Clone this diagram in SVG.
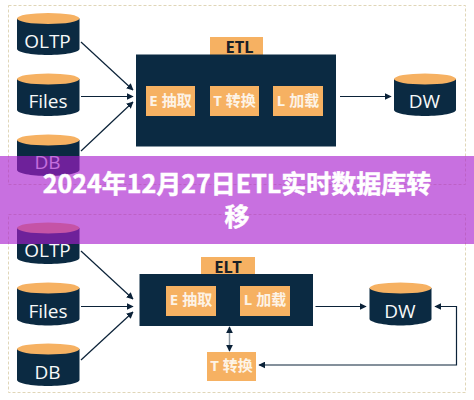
<svg xmlns="http://www.w3.org/2000/svg" width="474" height="400" viewBox="0 0 474 400">
<defs>
<marker id="ah" viewBox="0 0 10 10" refX="9" refY="5" markerWidth="7" markerHeight="7" orient="auto-start-reverse" markerUnits="userSpaceOnUse"><path d="M0 0L10 5L0 10z" fill="#0b2238"/></marker>
</defs>
<style>
.frame{fill:none;stroke:#e0d6b8;stroke-width:1;stroke-dasharray:3 2}
.body{fill:#0b2a42}
.top{fill:#f6b162}
.dark{fill:#0b2a42}
.box{fill:#f6b162}
.con{fill:none;stroke:#0b2238;stroke-width:1.2}
.lbl{font-family:"Open Sans","Noto Sans CJK SC",sans-serif;font-size:19px;fill:#f7f9f9;text-anchor:middle}
.step{font-family:"Noto Sans","Noto Sans CJK SC",sans-serif;font-size:15px;font-weight:700;fill:#fdf3e6;text-anchor:middle}
.tab{font-family:"Noto Sans",sans-serif;font-size:16.5px;font-weight:700;fill:#1a2026;text-anchor:middle}
.title{font-family:"Noto Sans CJK SC","Noto Sans",sans-serif;font-size:25px;font-weight:700;fill:#fff;stroke:#fff;stroke-width:.5;text-anchor:middle}
</style>
<rect width="474" height="400" fill="#fff"/>
<rect class="frame" x="8.500" y="5.500" width="457" height="179"/>
<rect class="frame" x="8.500" y="214.500" width="457" height="178"/>
<g id="connectors">
<path class="con" d="M81 42L133 90" marker-end="url(#ah)"/>
<path class="con" d="M81 96.500H133" marker-end="url(#ah)"/>
<path class="con" d="M81 151L133 102" marker-end="url(#ah)"/>
<path class="con" d="M340 96.500H391" marker-end="url(#ah)"/>
<path class="con" d="M81 251L133 299" marker-end="url(#ah)"/>
<path class="con" d="M81 306.500H133" marker-end="url(#ah)"/>
<path class="con" d="M81 360L133 312" marker-end="url(#ah)"/>
<path class="con" d="M315.500 306.500H366" marker-end="url(#ah)"/>
<path class="con" d="M229.500 327V351" style="stroke:#8a96a0;stroke-width:1.500" marker-start="url(#ah)" marker-end="url(#ah)"/>
<path class="con" d="M435 306.500H456.500V365H259" marker-start="url(#ah)" marker-end="url(#ah)"/>
</g>
<g id="oltp1"><path class="body" d="M17 18.500V49C17 52 31 55 48 55S79.500 52 79.500 49V18.500z"/><ellipse class="top" cx="48.250" cy="18.500" rx="31.250" ry="5.500"/><text class="lbl" x="47.500" y="48">OLTP</text></g>
<g id="files1"><path class="body" d="M17 79V110C17 113 31 116 48 116S79.500 113 79.500 110V79z"/><ellipse class="top" cx="48.250" cy="79" rx="31.250" ry="5.500"/><text class="lbl" x="48" y="108">Files</text></g>
<g id="db1"><path class="body" d="M17 140V170C17 173 31 176 48 176S79.500 173 79.500 170V140z"/><ellipse class="top" cx="48.250" cy="140" rx="31.250" ry="5.500"/><text class="lbl" x="47.500" y="169">DB</text></g>
<g id="etl"><rect class="box" x="210" y="37" width="53" height="18"/><rect class="dark" x="136" y="54.500" width="200" height="92"/><text class="tab" x="239.500" y="53">ETL</text>
<rect class="box" x="146" y="86" width="49" height="30"/><text class="step" x="170.500" y="106">E 抽取</text>
<rect class="box" x="210" y="86" width="49" height="30"/><text class="step" x="234.500" y="106">T 转换</text>
<rect class="box" x="273" y="86" width="50" height="30"/><text class="step" x="298" y="106">L 加载</text></g>
<g id="dw1"><path class="body" d="M394 79V110C394 113 408 116 425 116S456 113 456 110V79z"/><ellipse class="top" cx="425" cy="79" rx="31" ry="5.500"/><text class="lbl" x="424.500" y="108">DW</text></g>
<g id="oltp2"><path class="body" d="M17 228V258C17 261 31 264 48 264S79.500 261 79.500 258V228z"/><ellipse class="top" cx="48.250" cy="228" rx="31.250" ry="5.500"/><text class="lbl" x="47.500" y="257">OLTP</text></g>
<g id="files2"><path class="body" d="M17 288V319C17 322 31 325.500 48 325.500S79.500 322 79.500 319V288z"/><ellipse class="top" cx="48.250" cy="288" rx="31.250" ry="5.500"/><text class="lbl" x="48" y="318">Files</text></g>
<g id="db2"><path class="body" d="M17 349V380C17 383 31 386 48 386S79.500 383 79.500 380V349z"/><ellipse class="top" cx="48.250" cy="349" rx="31.250" ry="5.500"/><text class="lbl" x="47.500" y="379">DB</text></g>
<g id="elt"><rect class="box" x="201" y="257" width="54" height="18"/><rect class="dark" x="139.500" y="274" width="173.500" height="52"/><text class="tab" x="228" y="273">ELT</text>
<rect class="box" x="166" y="286" width="50" height="30"/><text class="step" x="191" y="305">E 抽取</text>
<rect class="box" x="240" y="286" width="50" height="30"/><text class="step" x="265" y="305">L 加载</text></g>
<g id="t2"><rect class="box" x="207" y="352" width="49" height="29"/><text class="step" x="231.500" y="371">T 转换</text></g>
<g id="dw2"><path class="body" d="M369.500 288V319C369.500 322 384 325.500 400.500 325.500S431.500 322 431.500 319V288z"/><ellipse class="top" cx="400.500" cy="288" rx="31" ry="5.500"/><text class="lbl" x="400" y="318">DW</text></g>
<g id="banner"><rect x="0" y="156" width="474" height="88" fill="#a81cce" fill-opacity="0.63"/>
<text class="title" x="237" y="193">2024年12月27日ETL实时数据库转</text>
<text class="title" x="237" y="226">移</text></g>
</svg>
